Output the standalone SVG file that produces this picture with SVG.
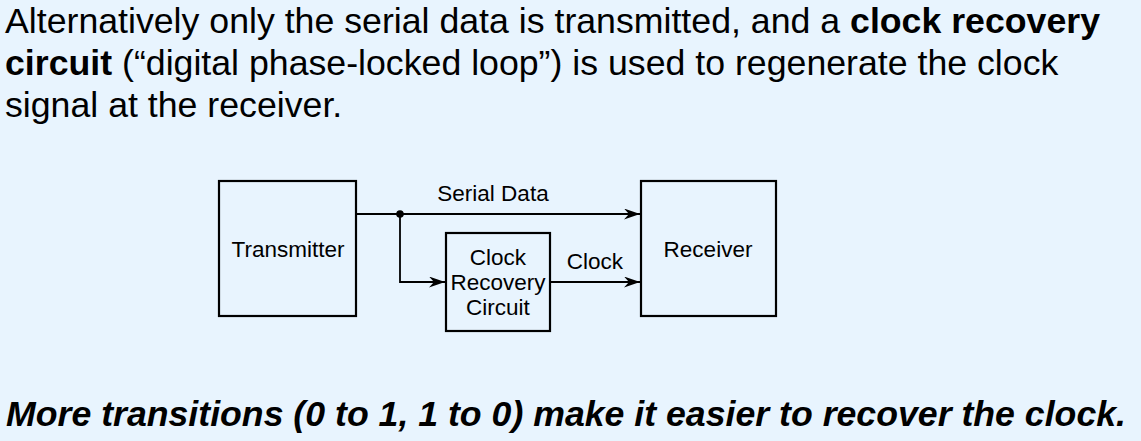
<svg xmlns="http://www.w3.org/2000/svg" width="1141" height="441" viewBox="0 0 1141 441">
<defs>
<style>
.h{font-family:"Liberation Sans",Arial,sans-serif;font-size:35.7px;fill:#000}
.b{font-weight:bold}
.l{font-family:"Liberation Sans",Arial,sans-serif;font-size:22.5px;fill:#000;text-anchor:middle}
.box{fill:none;stroke:#000;stroke-width:2.2}
.ln{fill:none;stroke:#000;stroke-width:1.8}
</style>
<marker id="ah" viewBox="0 0 16 11" refX="16" refY="5.5" markerWidth="16" markerHeight="11" markerUnits="userSpaceOnUse" orient="auto">
<path d="M0,0 L16,5.5 L0,11 L5,5.5 Z" fill="#000"/>
</marker>
</defs>
<rect width="1141" height="441" fill="#e8f4fe"/>
<text class="h" x="5" y="33">Alternatively only the serial data is transmitted, and a <tspan class="b">clock recovery</tspan></text>
<text class="h" x="5" y="75"><tspan class="b">circuit</tspan> (“digital phase-locked loop”) is used to regenerate the clock</text>
<text class="h" x="5" y="117">signal at the receiver.</text>
<g id="transmitter"><rect class="box" x="219" y="181" width="137" height="135"/><text class="l" x="288" y="257">Transmitter</text></g>
<g id="receiver"><rect class="box" x="641" y="181" width="135" height="135"/><text class="l" x="708" y="257">Receiver</text></g>
<g id="clockrec"><rect class="box" x="446" y="233" width="104" height="98"/><text class="l" x="498" y="265">Clock</text><text class="l" x="498" y="290">Recovery</text><text class="l" x="498" y="315">Circuit</text></g>
<g id="connectors">
<path class="ln" d="M356,214 L640,214" marker-end="url(#ah)"/>
<path class="ln" d="M400,214 L400,282 L445,282" marker-end="url(#ah)"/>
<path class="ln" d="M550,282 L640,282" marker-end="url(#ah)"/>
<circle cx="400" cy="214" r="3.8" fill="#000"/>
<text class="l" x="493" y="201">Serial Data</text>
<text class="l" x="595" y="269">Clock</text>
</g>
<text class="h b" x="6" y="426" font-size="32" font-style="italic" textLength="1120" lengthAdjust="spacingAndGlyphs">More transitions (0 to 1, 1 to 0) make it easier to recover the clock.</text>
</svg>
